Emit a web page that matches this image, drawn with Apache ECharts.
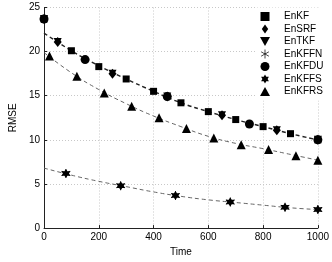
<!DOCTYPE html>
<html><head><meta charset="utf-8">
<script src="https://cdn.jsdelivr.net/npm/echarts@6/dist/echarts.min.js"></script>
<style>html,body{margin:0;padding:0;background:#fff}#c{width:332px;height:262px}</style>
</head><body><div id="c"></div>
<script>
// fitted dashed curves
const fitX = [0,100,200,300,400,500,600,700,800,900,1000];
const fitTop = [22.1,20.1,18.4,16.9,15.5,14.2,13.2,12.3,11.5,10.7,10.0];
const fitRS  = [19.9,17.6,15.7,14.1,12.7,11.5,10.4,9.6,9.0,8.35,7.7];
const fitFS  = [6.8,6.0,5.3,4.7,4.1,3.6,3.2,2.9,2.6,2.3,2.1];
// markers
const enkfX = [0,100,200,300,400,500,600,700,800,900,1000];
const enkfY = [23.7,20.1,18.3,16.9,15.5,14.2,13.2,12.3,11.5,10.7,10.0];
const ensrfX = [0,50,250,450,650,850,1000];
const ensrfY = [23.7,21.1,17.5,14.9,12.8,11.1,10.0];
const entkfX = [0,50,250,450,650,850,1000];
const entkfY = [23.7,21.1,17.5,14.9,12.8,11.1,10.0];
const enkfduX = [0,150,450,750,1000];
const enkfduY = [23.7,19.1,14.9,11.8,10.0];
const enkffsX = [80,280,480,680,880,1000];
const enkffsY = [6.2,4.8,3.7,2.95,2.37,2.1];
const enkffnX = [80,280,480,680,880,1000];
const enkffnY = [6.2,4.8,3.7,2.95,2.37,2.1];
const enkfrsX = [20,120,220,320,420,520,620,720,820,920,1000];
const enkfrsY = [19.5,17.2,15.3,13.8,12.5,11.3,10.2,9.45,8.9,8.2,7.7];
const xTicks = ['0','200','400','600','800','1000'];
const yTicks = ['0','5','10','15','20','25'];

const pair = (xs, ys) => xs.map((x,i)=>[x, ys[i]]);
const SQ = 'path://M-5,-5L5,-5L5,5L-5,5Z';
const DIA = 'path://M0,-7L5,0L0,7L-5,0Z';
const TDN = 'path://M-5,-4L5,-4L0,5Z';
const TUP = 'path://M0,-5L5,4L-5,4Z';
const HEX = 'path://M0,-10L2.9,-5L8.66,-5L5.8,0L8.66,5L2.9,5L0,10L-2.9,5L-8.66,5L-5.8,0L-8.66,-5L-2.9,-5Z';
const AST = 'path://M-0.8,-10L0.8,-10L0.8,10L-0.8,10Z M8.26,-5.6L9.06,-4.2L-8.26,5.6L-9.06,4.2Z M-9.06,-4.2L-8.26,-5.6L9.06,4.2L8.26,5.6Z';
const CIR = 'circle';

const ff = '"Liberation Sans", Arial, Helvetica, sans-serif';
const fitLine = (name, xs, ys, color, w) => ({
  name, type:'line', data: pair(xs, ys), showSymbol:false, symbol:'none', smooth:true,
  lineStyle:{color, width:w, type:[4,3]}, silent:true, z:2
});
const sc = (name, xs, ys, symbol, size) => ({
  name, type:'scatter', data: pair(xs, ys), symbol, symbolSize:size,
  itemStyle:{color:'#000', opacity:1}, z:5
});

const chart = echarts.init(document.getElementById('c'), null, {renderer:'canvas'});
chart.setOption({
  animation:false,
  backgroundColor:'#fff',
  textStyle:{fontFamily:ff},
  grid:{left:30, right:14, top:7.5, bottom:26},
  xAxis:{type:'value', min:0, max:1000, interval:200, name:'Time', nameLocation:'middle', nameGap:17,
    nameTextStyle:{fontSize:10, color:'#000', fontFamily:ff},
    axisLine:{lineStyle:{color:'#222', width:1}},
    axisTick:{inside:true, length:3, lineStyle:{color:'#222'}},
    axisLabel:{fontSize:10, color:'#000', margin:4, fontFamily:ff, formatter:(v)=>xTicks[Math.round(v/200)]},
    splitLine:{show:true, lineStyle:{color:'#c8c8c8', type:[1,2], width:1}}},
  yAxis:{type:'value', min:0, max:25, interval:5, name:'RMSE', nameLocation:'middle', nameGap:20,
    nameTextStyle:{fontSize:10, color:'#000', fontFamily:ff},
    axisLine:{show:true, lineStyle:{color:'#222', width:1}},
    axisTick:{show:true, inside:true, length:3, lineStyle:{color:'#222'}},
    axisLabel:{fontSize:10, color:'#000', margin:4, fontFamily:ff, formatter:(v)=>yTicks[Math.round(v/5)]},
    splitLine:{show:true, lineStyle:{color:'#c8c8c8', type:[1,2], width:1}}},
  legend:{
    orient:'vertical', left:257, top:7.5, padding:[3,3,3,3],
    backgroundColor:'#fff', itemWidth:10, itemHeight:9, itemGap:0.5,
    textStyle:{fontSize:10, color:'#000', lineHeight:12, padding:[0,0,0,9], fontFamily:ff},
    data:[
      {name:'EnKF', icon:SQ},
      {name:'EnSRF', icon:DIA},
      {name:'EnTKF', icon:TDN},
      {name:'EnKFFN', icon:AST},
      {name:'EnKFDU', icon:CIR},
      {name:'EnKFFS', icon:HEX},
      {name:'EnKFRS', icon:TUP}
    ],
    itemStyle:{color:'#000', opacity:1}
  },
  series:[
    fitLine('fitTop', fitX, fitTop, '#222', 1.4),
    fitLine('fitRS', fitX, fitRS, '#666', 1),
    fitLine('fitFS', fitX, fitFS, '#666', 1),
    sc('EnKF', enkfX, enkfY, SQ, 7),
    sc('EnSRF', ensrfX, ensrfY, DIA, [8,10]),
    sc('EnTKF', entkfX, entkfY, TDN, 8),
    sc('EnKFFN', enkffnX, enkffnY, AST, 9),
    sc('EnKFDU', enkfduX, enkfduY, CIR, 9),
    sc('EnKFFS', enkffsX, enkffsY, HEX, 9),
    sc('EnKFRS', enkfrsX, enkfrsY, TUP, 9)
  ]
});
</script></body></html>
